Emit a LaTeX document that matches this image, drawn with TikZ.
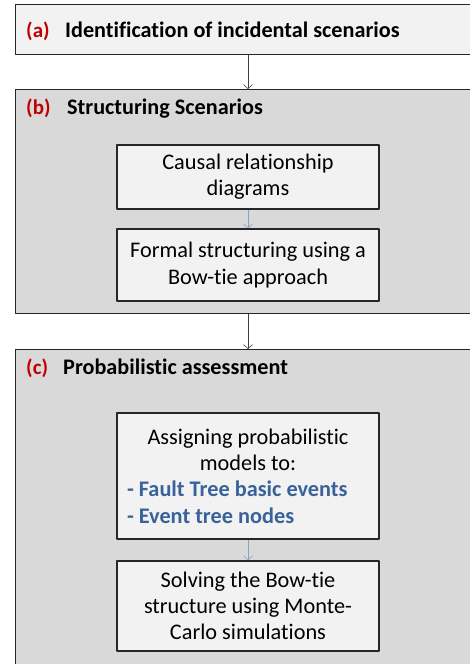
\documentclass[tikz,border=0pt]{standalone}
\usepackage{fontspec}
\setmainfont{Carlito}[Ligatures=NoCommon]
\usetikzlibrary{positioning,arrows.meta}

\definecolor{labred}{RGB}{192,0,0}
\definecolor{itemblue}{RGB}{58,98,154}
\definecolor{paneA}{RGB}{242,242,242}
\definecolor{paneB}{RGB}{217,217,217}
\definecolor{taskfill}{RGB}{242,242,242}

\tikzset{
	stage/.style={draw=black!85, line width=1.4pt, anchor=north west, minimum width=480pt, inner sep=0pt},
	task/.style={draw=black!85, line width=1.4pt, fill=taskfill, minimum width=262pt, align=center, inner sep=0pt, font=\fontsize{22.3}{26.3}\selectfont},
	tag/.style={anchor=base west, inner sep=0pt, text=labred, font=\fontsize{21}{24}\selectfont\bfseries},
	title/.style={anchor=base west, inner sep=0pt, font=\fontsize{22.2}{24}\selectfont\bfseries},
	link/.style={->, draw=black!75, line width=0.6pt},
	sublink/.style={->, draw=itemblue!60, line width=0.6pt}
}
\newcommand{\bluitem}[1]{\makebox[242pt][l]{\color{itemblue}\bfseries #1}}

\begin{document}
\begin{tikzpicture}[x=1pt, y=-1pt, line join=round, >={Straight Barb[length=4pt, width=9pt]}]
	\useasboundingbox (0,0) rectangle (470,664);
	% the three stages
	\node[stage, fill=paneA, minimum height=50pt] (stA) at (15,4) {};
	\node[stage, fill=paneB, minimum height=224pt] (stB) at (15,89) {};
	\node[stage, fill=paneB, minimum height=330pt] (stC) at (15,349) {};

	\node[tag] (tagA) at (26,37) {(a)};
	\node[title] (titA) at (65,37) {Identification of incidental scenarios};
	\node[tag] (tagB) at (26,114) {(b)};
	\node[title] (titB) at (67,114) {Structuring Scenarios};
	\node[tag] (tagC) at (26,374) {(c)};
	\node[title] (titC) at (63,374) {Probabilistic assessment};

	% steps inside (b) and (c)
	\node[task, minimum height=64pt] (causal) at (248,177) {Causal relationship\\diagrams};
	\node[task, minimum height=72pt] (formal) at (248,265) {Formal structuring using a\\Bow-tie approach};
	\node[task, minimum height=126pt] (assign) at (248,476)
		{Assigning probabilistic\\models to:\\\bluitem{- Fault Tree basic events}\\\bluitem{- Event tree nodes}};
	\node[task, minimum height=90pt] (solve) at (248,606) {Solving the Bow-tie\\structure using Monte-\\Carlo simulations};

	\draw[link] (stA.south -| causal) -- (stB.north -| causal);
	\draw[link] (stB.south -| causal) -- (stC.north -| causal);
	\draw[sublink] (causal) -- (formal);
	\draw[sublink] (assign) -- (solve);
\end{tikzpicture}
\end{document}
